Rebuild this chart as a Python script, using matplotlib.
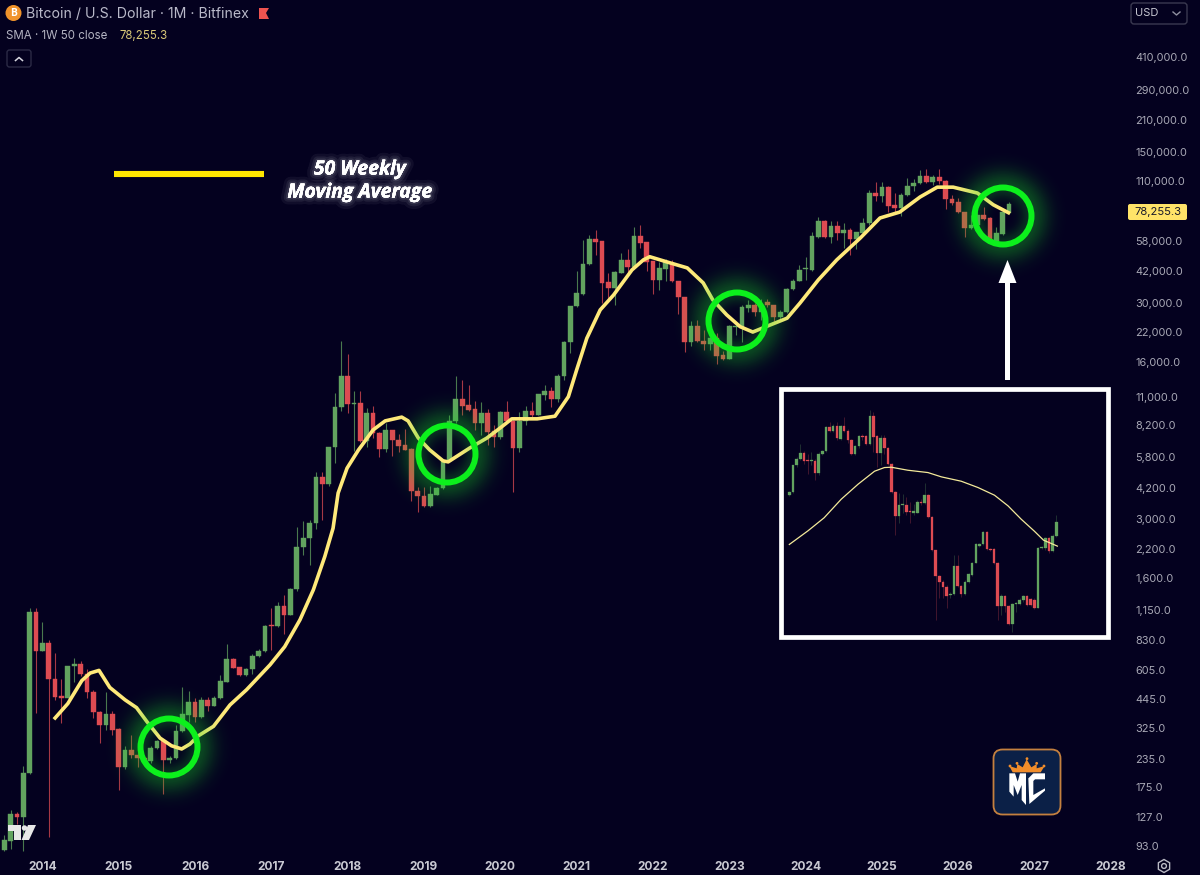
import numpy as np
import matplotlib
matplotlib.use("Agg")
import matplotlib.pyplot as plt
import matplotlib.patheffects as pe
from matplotlib.patches import Circle, Polygon, FancyBboxPatch, Rectangle

# ---------- data (monthly candles, USD) ----------
first_month = -6   # months relative to Jan 2014
bar_open = [89.6,98,131,126,203,1125,737,805,551,460,448,630,645,578,480,386,337,379,322,216,257,246,237,229,263,283,231,237,316,376,430,366,440,414,448,533,680,622,575,610,702,738,975,965,1190,1085,1430,2230,2460,2880,4720,4350,6450,9930,13830,10270,10300,6920,9270,7500,6370,7770,6990,6610,6370,4060,3850,3470,3900,4180,5610,8560,10810,10100,9680,8350,9270,7640,7190,9430,8580,6410,8580,9500,9100,11310,11720,10770,13830,19740,29000,33050,45350,59000,58000,37300,35000,41400,47400,43800,61200,57200,46600,38300,43000,45800,37900,31900,19800,23400,20100,19350,20600,17200,16500,23200,23200,28500,29350,27200,30400,29350,25900,27100,34700,37800,42900,42600,60500,71800,60500,68000,62900,65100,59000,63400,70000,97000,93000,102600,84700,82000,94200,104000,107300,116000,108000,114000,110100,90800,87900,79200,66800,68500,76400,74000,58200,62500,78400]
bar_high = [104,137,134,217,1175,1170,1010,833,725,549,632,690,667,610,490,390,480,390,327,268,303,259,245,268,288,288,241,337,506,481,448,456,453,458,575,800,685,625,615,715,755,975,1175,1245,1345,1445,2780,2950,2980,4950,4950,6490,11470,20010,17500,11800,11800,9780,10040,7630,8350,7770,7470,7820,6400,4250,4220,4280,4220,5680,9120,13830,13220,12550,10610,10500,9680,8200,9530,10570,8640,9430,10000,10500,11400,12540,12230,14060,19950,29000,41900,58600,61800,65100,58000,41400,41900,50900,53000,67400,69000,57200,46800,46100,47700,47400,37900,31900,24700,25000,22500,22500,21700,17900,23800,23800,29350,30950,29900,31300,31400,29350,27800,35000,38600,44900,48700,63800,74600,72500,71800,72000,70000,66300,64000,73800,99700,108000,108900,103500,96200,97000,112800,111600,123300,124200,117000,125200,110900,94600,91200,79200,76400,80000,83000,75000,67400,79200,88000]
bar_low = [88,90,118,88,200,384,737,102,440,345,448,530,565,450,363,277,318,303,168,211,238,215,220,225,260,162,225,235,314,347,349,364,389,412,443,530,615,567,570,580,695,730,745,955,890,1080,1400,2050,1840,2700,2985,4300,5470,9500,9270,6240,6850,6510,7120,5810,6140,5890,6140,6280,3660,3260,3430,3430,3880,4150,5540,8370,9110,9460,7770,7370,6630,6510,7050,8490,4030,6170,8200,8890,9080,10690,9940,10500,13220,17650,28700,32700,45000,50000,29900,30400,29350,41100,41100,43800,53700,41900,33100,34400,37700,37300,26700,17700,18900,19700,18200,18100,15700,16350,16500,21300,19700,27100,26000,25000,28700,24700,25000,26900,34400,37700,38300,41900,59600,59600,56600,58600,53700,50000,53000,62500,68500,88900,88000,79200,78400,75500,93600,99000,106500,107300,105100,106500,81400,84700,77900,60200,65600,67000,72500,58600,57600,61800,77700]
bar_close = [99.6,131,126,203,1125,737,809,551,456,450,630,645,578,480,386,337,379,320,216,257,246,236,229,263,285,231,237,316,379,430,366,440,414,448,535,680,620,573,610,705,738,970,965,1190,1085,1430,2230,2460,2880,4720,4350,6450,9930,13830,10270,10340,6920,9270,7500,6370,7770,6990,6580,6300,4050,3840,3470,3920,4180,5610,8560,10810,10060,9610,8350,9270,7590,7190,9430,8580,6410,8580,9480,9100,11380,11720,10770,13840,19780,29000,33200,45200,59200,57500,37100,35000,41600,47400,43800,61200,56600,46100,38300,43300,46100,37700,31800,19800,23400,19900,19350,20600,17000,16500,23400,23400,28600,29350,27200,29350,29200,25900,27200,34800,37900,42600,43300,61200,72000,60200,68100,62900,65100,59000,63500,70500,97000,93200,102600,84300,82000,94600,104300,107800,116000,108000,114000,109800,90200,86600,78700,66300,68500,76000,73300,58600,62900,78700,85700]

sma_month = [2.0,4.0,6.2,7.5,8.9,10.6,13.0,14.8,16.4,18.5,20.3,21.9,23.2,24.5,26.9,29.5,32.1,35.8,38.1,40.5,42.6,44.4,45.7,46.5,47.9,49.7,52.0,53.9,56.5,57.5,59.1,60.9,63.0,63.8,67.2,69.9,72.0,73.8,77.8,80.6,82.7,84.0,85.6,87.7,89.8,92.7,94.5,95.5,98.7,101.4,103.9,105.4,107.6,109.7,111.7,114.4,117.1,119.1,122.0,124.9,128.6,131.7,134.8,138.0,140.7,143.2,147.0,149.5,151.9]
sma_price = [363,423,540,585,602,502,440,405,350,293,270,261,275,300,332,417,490,639,775,1031,1418,2020,2730,3970,5170,6280,7770,8550,8900,8550,7130,6280,5590,5530,6410,7130,7940,8740,8740,8990,11060,14700,20600,27830,32600,42600,47400,49000,45900,43500,37100,31000,26400,23300,22000,23700,25500,29900,38300,47400,59800,74000,78800,92500,102700,102700,96500,85200,78255]

year_labels = ['2014','2015','2016','2017','2018','2019','2020','2021','2022','2023','2024','2025','2026','2027','2028']
price_ticks = [410000,290000,210000,150000,110000,78000,58000,42000,30000,22000,16000,11000,8200,5800,4200,3000,2200,1600,1150,830,605,445,325,235,175,127,93]
price_labels = ['410,000.0','290,000.0','210,000.0','150,000.0','110,000.0','','58,000.0','42,000.0','30,000.0','22,000.0','16,000.0','11,000.0','8,200.0','5,800.0','4,200.0','3,000.0','2,200.0','1,600.0','1,150.0','830.0','605.0','445.0','325.0','235.0','175.0','127.0','93.0']

# inset: weekly candles, thousands of USD
ins_top = [320,240,220,202,202,224,224,226,206,197,125,125,121,121,123,123,137,165,183,151,151,151,93,93,153,157,157,187,235,320,358,357,360,377,378,350,350,329,329,396,496,573,591,605,628,544,544,603,590,568,533,478,478,440,440,491,492,534,632,632,662,658,655,644,634,634,642,644,488,485,460,460,452,410]
ins_bot = [328,320,240,221,227,227,226,264,264,206,197,137,137,159,160,137,165,205,205,183,155,175,175,155,202,202,187,235,320,393,393,360,381,381,382,382,353,353,396,496,573,591,605,632,631,628,603,628,628,590,570,533,482,478,492,494,534,662,662,664,716,716,658,657,644,659,659,668,668,488,488,497,497,452]
ins_wtop = [318,238,215,175,198,205,200,222,200,195,122,110,115,110,118,95,130,160,178,148,145,148,75,80,150,150,150,185,232,318,322,325,335,350,355,345,340,292,325,394,494,570,585,600,620,510,510,600,585,565,530,475,475,438,438,488,490,532,628,630,660,655,650,640,630,630,638,640,485,482,455,455,448,390]
ins_wbot = [332,322,245,225,235,265,240,285,268,208,200,140,140,165,165,140,172,210,210,188,165,180,178,200,245,240,205,240,322,450,415,385,390,415,390,385,360,355,400,498,705,640,640,668,640,630,605,635,630,595,572,535,485,480,495,498,538,705,690,680,720,740,680,660,650,662,662,672,670,492,495,505,500,455]
ins_up = [1,1,1,1,0,0,1,0,1,1,1,0,1,0,1,0,0,0,1,1,0,0,1,0,0,1,0,0,0,0,1,1,0,0,1,1,0,1,0,0,0,0,0,0,1,1,0,0,1,1,1,1,1,1,0,0,0,0,1,0,0,1,1,1,1,0,0,0,1,1,1,0,1,1]
ins_sma_i = [0,5.1,9.5,14.2,18.8,23.3,26,27.9,32.4,37.9,41.6,47,51.6,56.1,59.8,63.4,67,69.5,73.3]
ins_sma_v = [478,437,398,342,297,258,247,246,255,262,275,288,307,330,362,402,438,465,483]

BG = '#04011f'
UP = '#62a35f'
DOWN = '#de4b52'
W, H = 1200, 875

fig = plt.figure(figsize=(12, 8.75), dpi=100, facecolor=BG)
plt.rcParams['font.family'] = ['Inter', 'DejaVu Sans']

# ---------- main price axes ----------
ax_right, ax_bottom = 1128, 855
ax = fig.add_axes([0, 1 - ax_bottom / H, ax_right / W, ax_bottom / H], facecolor=BG)
ax.set_yscale('log')
px_per_decade = (846 - 57) / np.log10(410000 / 93)
ax.set_ylim(93 / 10 ** ((ax_bottom - 846) / px_per_decade), 410000 * 10 ** (57 / px_per_decade))
px_per_month = 6.36
ax.set_xlim(-42.4 / px_per_month, (ax_right - 42.4) / px_per_month)

n = len(bar_open)
months = np.arange(first_month, first_month + n)
o, h, l, c = map(np.array, (bar_open, bar_high, bar_low, bar_close))
cols = np.where(c >= o, UP, DOWN)
ax.vlines(months, l, h, colors=cols, lw=0.8, alpha=0.75, zorder=2)
ax.bar(months, np.abs(c - o), bottom=np.minimum(o, c), width=0.74, color=cols, edgecolor=cols, lw=0.3, zorder=3)
ax.plot(sma_month, sma_price, color='#ffe97a', lw=2.6, solid_joinstyle='round', zorder=4)

ax.set_xticks(np.arange(len(year_labels)) * 12)
ax.set_xticklabels(year_labels, fontsize=8.6, fontweight='bold', color='#c9c9d2')
ax.set_yticks(price_ticks)
ax.set_yticklabels(price_labels, fontsize=7.9, color='#a9a9b6', ha='left')
ax.minorticks_off()
ax.yaxis.tick_right()
ax.tick_params(axis='both', which='both', length=0)
ax.tick_params(axis='y', pad=5)
ax.tick_params(axis='x', pad=4)
for s in ax.spines.values():
    s.set_visible(False)

# ---------- overlay in pixel coordinates ----------
ov = fig.add_axes([0, 0, 1, 1], facecolor='none', zorder=5)
ov.set_xlim(0, W)
ov.set_ylim(H, 0)
ov.axis('off')

# green rings and glows
ring_centers = [(169, 747), (447, 454), (737, 321), (1003, 216)]
R = 28.5
for cx, cy in ring_centers:
    s = 80
    yy, xx = np.mgrid[-s:s + 1, -s:s + 1]
    r = np.hypot(xx, yy)
    a = np.where(r > R, 0.34 * np.exp(-((r - R) / 18) ** 2), 0.24 * np.exp(-((R - r) / 11) ** 2))
    rgba = np.zeros(r.shape + (4,))
    rgba[..., 1] = 0.85
    rgba[..., 0] = 0.1
    rgba[..., 2] = 0.15
    rgba[..., 3] = a
    ov.imshow(rgba, extent=(cx - s, cx + s, cy + s, cy - s), aspect='auto', zorder=1, interpolation='bilinear')
    ov.add_patch(Circle((cx, cy), R, fill=False, ec='#0cf01c', lw=4.3, zorder=2))
ov.set_xlim(0, W)
ov.set_ylim(H, 0)

# legend line and caption
ov.plot([114, 264], [174, 174], color='#ffe600', lw=4.4, solid_capstyle='butt', zorder=3)
glow = [pe.withStroke(linewidth=10, foreground=(1, 1, 1, 0.05)),
        pe.withStroke(linewidth=6, foreground=(1, 1, 1, 0.07)),
        pe.withStroke(linewidth=3, foreground=(1, 1, 1, 0.10))]
for txt, yy in (('50 Weekly', 169.5), ('Moving Average', 192.5)):
    ov.text(360, yy, txt, family=['Open Sans', 'DejaVu Sans'], fontsize=14, fontweight='bold', fontstyle='italic',
            color='white', ha='center', va='center', path_effects=glow, zorder=4)

# arrow
ov.add_patch(Rectangle((1005, 282), 5, 98, fc='white', ec='none', zorder=3))
ov.add_patch(Polygon([(1007.5, 260), (1016.5, 283), (998.5, 283)], fc='white', ec='none', zorder=3))

# header
ov.add_patch(Circle((13.5, 13), 8, fc='#f0932b', ec='none'))
ov.text(13.5, 13, 'B', family=['Open Sans', 'DejaVu Sans'], fontsize=7.5, fontweight='bold', color='white', ha='center', va='center')
ov.text(26, 13.5, 'Bitcoin / U.S. Dollar · 1M · Bitfinex', fontsize=10.2, color='#b9b9c9', va='center', ha='left')
ov.add_patch(Polygon([(259, 8), (269, 8), (266, 13), (269, 19), (259, 19)], fc='#ef5350', ec='none'))
ov.text(6, 36, 'SMA · 1W 50 close', fontsize=8.3, color='#b4b4c2', va='center', ha='left')
ov.text(119, 36, '78,255.3', fontsize=8.3, color='#d8c878', va='center', ha='left')
ov.add_patch(FancyBboxPatch((7, 50), 24, 17, boxstyle='round,pad=0,rounding_size=2.5', fc='none', ec='#2b2a45', lw=1))
ov.plot([15.5, 19, 22.5], [60.5, 57.5, 60.5], color='#d8d8e0', lw=1.1)

# currency box
ov.add_patch(FancyBboxPatch((1131, 3), 56, 21, boxstyle='round,pad=0,rounding_size=3', fc='none', ec='#3a3950', lw=1))
ov.text(1135, 13.5, 'USD', fontsize=8, color='#c8c8d2', va='center', ha='left')
ov.plot([1173, 1176.5, 1180], [12, 15, 12], color='#8f8fa0', lw=1)

# last-value tag
ov.add_patch(FancyBboxPatch((1128, 204), 59, 16, boxstyle='round,pad=0,rounding_size=2', fc='#ffe368', ec='none'))
ov.text(1157.5, 212, '78,255.3', fontsize=8.1, color='#1a1a2a', va='center', ha='center')

# settings hexagon
ang = np.deg2rad(np.arange(30, 390, 60))
ov.add_patch(Polygon(np.c_[1164 + 6.5 * np.cos(ang), 866 + 6.5 * np.sin(ang)], fc='none', ec='#b9b9c4', lw=1))
ov.add_patch(Circle((1164, 866), 2.4, fc='none', ec='#b9b9c4', lw=1))

# TradingView mark
ov.add_patch(Polygon([(8, 825), (21, 825), (21, 840), (14, 840), (14, 831), (8, 831)], fc='#e8e8e8', ec='none'))
ov.add_patch(Circle((24.5, 828), 2.7, fc='#e8e8e8', ec='none'))
ov.add_patch(Polygon([(28, 825), (36, 825), (29, 840), (21.5, 840)], fc='#e8e8e8', ec='none'))

# MC logo
def z(pts):
    return [(970 + a / 3, 740 + b / 3) for a, b in pts]
ov.add_patch(FancyBboxPatch((993.5, 749.5), 67, 65, boxstyle='round,pad=0,rounding_size=9',
                            fc='#0b2047', ec='#c4803f', lw=1.3))
ov.add_patch(Polygon(z([(118, 78), (140, 85), (142, 72), (158, 82), (170, 58), (184, 82), (200, 72), (200, 85), (224, 78), (212, 97), (128, 97)]),
                     fc='#f08c2a', ec='none'))
for a, b in [(120, 78), (141, 70), (171, 56), (200, 70), (222, 78)]:
    ov.add_patch(Circle(z([(a, b)])[0], 1.4, fc='#f08c2a', ec='none'))
ov.add_patch(Polygon(z([(118, 100), (135, 100), (143, 125), (150, 100), (168, 100), (168, 195), (155, 180), (155, 135), (143, 165), (131, 135), (131, 170), (118, 155)]),
                     fc='white', ec='none'))
ov.add_patch(Polygon(z([(175, 115), (190, 100), (225, 100), (225, 118), (195, 118), (190, 123), (190, 165), (225, 145), (225, 152), (178, 192)]),
                     fc='white', ec='none'))

# ---------- inset panel ----------
ov.add_patch(Rectangle((780.5, 388.5), 327, 248, fill=False, ec='white', lw=3.4, zorder=6))
ins = fig.add_axes([784 / W, 1 - 634 / H, 320 / W, 242 / H], facecolor=BG, zorder=6)
i_idx = np.arange(len(ins_top))
to_price = lambda v: 135 - np.asarray(v, float) / 10   # thousands of USD
top, bot, wt, wb = map(to_price, (ins_top, ins_bot, ins_wtop, ins_wbot))
icol = np.where(np.array(ins_up) == 1, UP, DOWN)
ins.vlines(i_idx, wb, wt, colors=icol, lw=0.5, alpha=0.4)
ins.bar(i_idx, top - bot, bottom=bot, width=0.7, color=icol, edgecolor=icol, lw=0.2)
ins.plot(ins_sma_i, to_price(ins_sma_v), color='#f4ea9a', lw=0.9, zorder=4)
ins.set_xlim((28 - 44) / 10.97, (988 - 44) / 10.97)
ins.set_ylim(135 - 74.7, 135 - 2.0)
ins.set_xticks([])
ins.set_yticks([])
for s in ins.spines.values():
    s.set_visible(False)

fig.savefig('out.png', dpi=100, facecolor=BG)
